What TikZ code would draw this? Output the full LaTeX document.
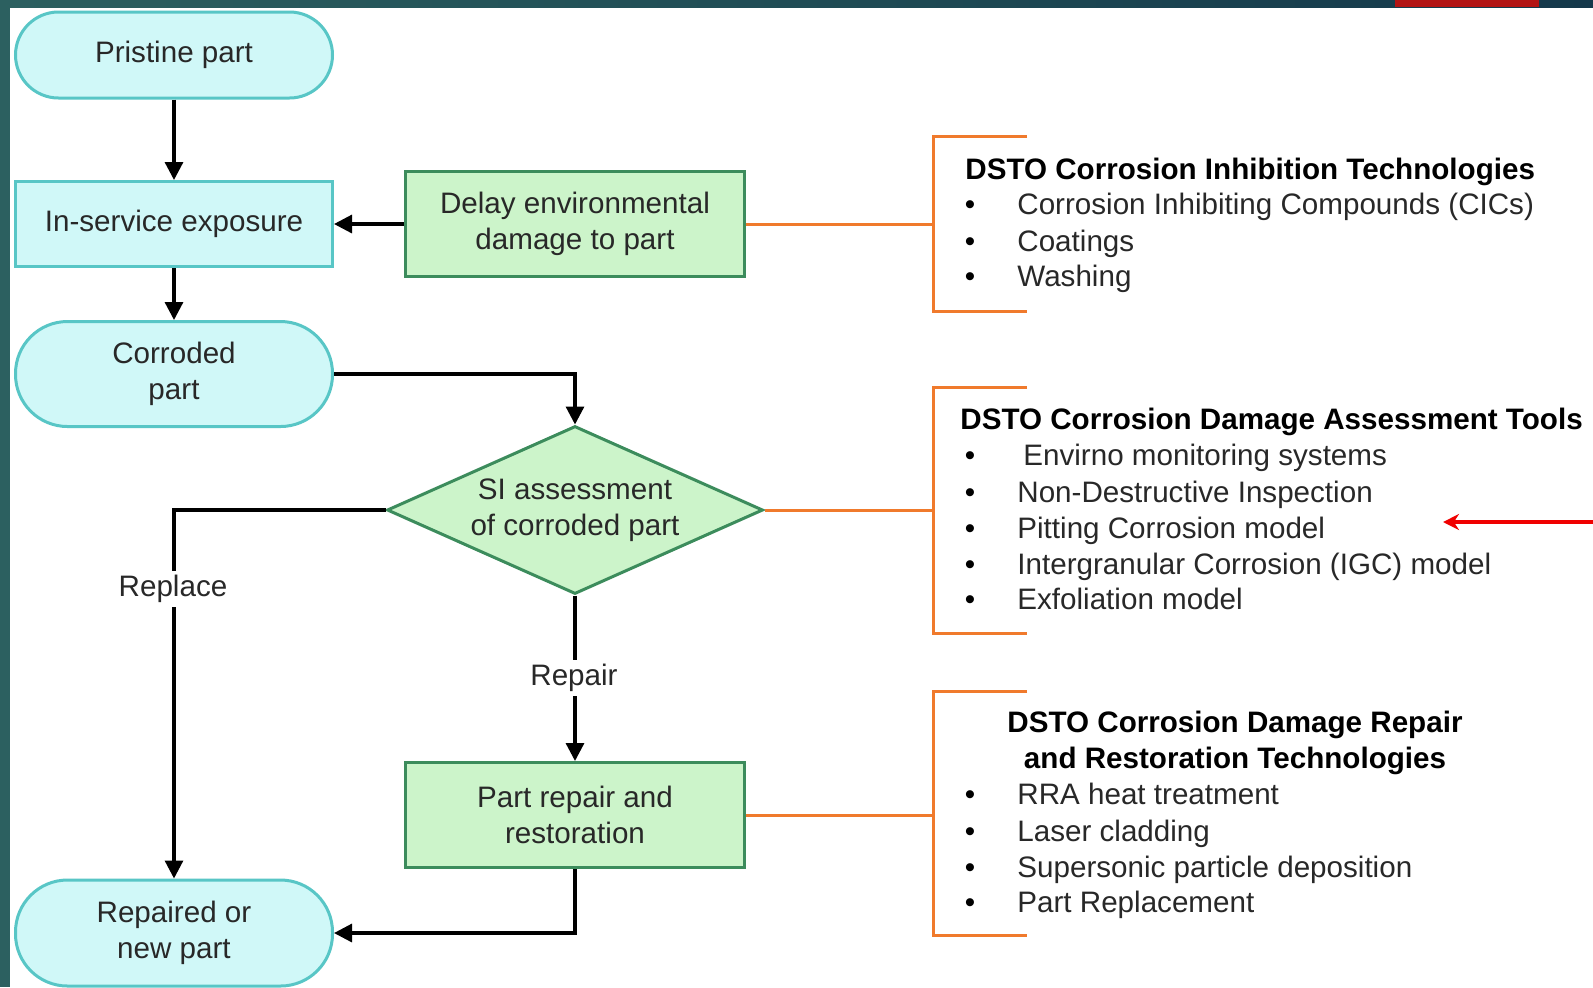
\documentclass[tikz,border=0pt]{standalone}
\usepackage{fontspec}
\setmainfont{Liberation Sans}
\usetikzlibrary{shapes.geometric,arrows.meta}
\definecolor{cyfill}{RGB}{208,248,248}
\definecolor{cydraw}{RGB}{88,198,198}
\definecolor{grfill}{RGB}{204,244,202}
\definecolor{grdraw}{RGB}{60,140,92}
\definecolor{orng}{RGB}{240,122,44}
\definecolor{tealA}{RGB}{44,96,96}
\definecolor{tealB}{RGB}{20,56,74}
\definecolor{barred}{RGB}{178,20,20}
\definecolor{arrred}{RGB}{240,0,0}
\definecolor{txt}{RGB}{40,40,40}
\begin{document}
\begin{tikzpicture}[x=0.5pt,y=-0.5pt,
  fnt/.style={font=\fontsize{14.8pt}{17.8pt}\selectfont},
  term/.style={fnt,draw=cydraw,fill=cyfill,line width=1.5pt,text=txt,align=center,minimum width=158.5pt,inner sep=0pt},
  cybox/.style={fnt,draw=cydraw,fill=cyfill,line width=1.5pt,text=txt,align=center,minimum width=158.5pt,minimum height=42.5pt,inner sep=0pt},
  grbox/.style={fnt,draw=grdraw,fill=grfill,line width=1.5pt,text=txt,align=center,minimum width=169.5pt,minimum height=52.5pt,inner sep=0pt},
  arr/.style={line width=1.6pt,-{Triangle[length=9pt,width=9pt]}},
  oline/.style={draw=orng,line width=1.5pt},
  lbl/.style={fnt,fill=white,text=txt,inner sep=2pt},
  ttl/.style={fnt,font=\fontsize{14.8pt}{17.8pt}\selectfont\bfseries,text=black,inner sep=0pt},
  itm/.style={fnt,text=txt,inner sep=0pt,anchor=base west},
  bul/.style={fnt,text=black,inner sep=0pt,anchor=base}
]
\useasboundingbox (0,0) rectangle (1593,987);
\fill[white] (0,0) rectangle (1593,987);
% frame bars
\fill[tealA] (0,0) rectangle (10,987);
\shade[left color=tealA,right color=tealB] (0,0) rectangle (1593,7);
\fill[barred] (1395,0) rectangle (1539,7);

% flowchart nodes
\node[term,minimum height=43pt,rounded corners=21.5pt] (pristine) at (174,55) {Pristine part};
\node[cybox] (inservice) at (174,224) {In-service exposure};
\node[term,minimum height=52.5pt,rounded corners=26pt] (corroded) at (174,374) {Corroded\\part};
\node[term,minimum height=53pt,rounded corners=26pt] (repaired) at (174,933) {Repaired or\\new part};
\node[grbox] (delay) at (575,224) {Delay environmental\\damage to part};
\node[diamond,aspect=2.24,fnt,draw=grdraw,fill=grfill,line width=1.5pt,text=txt,align=center,minimum width=188pt,minimum height=84pt,inner sep=0pt] (si) at (575,510) {SI assessment\\of corroded part};
\node[grbox] (rep) at (575,815) {Part repair and\\restoration};

% black connectors
\draw[arr] (pristine.south) -- (inservice.north);
\draw[arr] (inservice.south) -- (corroded.north);
\draw[arr] (delay.west) -- (inservice.east);
\draw[arr] (corroded.east) -| (si.north);
\draw[arr] (si.west) -| (repaired.north);
\draw[arr] (si.south) -- (rep.north);
\draw[arr] (rep.south) |- (repaired.east);
\node[lbl] (lreplace) at (173,589) {Replace};
\node[lbl] (lrepair) at (574,678) {Repair};

% orange brackets
\coordinate (j1) at (933,224);
\coordinate (j2) at (933,510);
\coordinate (j3) at (933,815);
\draw[oline] (delay.east) -- (j1);
\draw[oline] (si.east) -- (j2);
\draw[oline] (rep.east) -- (j3);
\draw[oline] (1027,136) -- (933,136) -- (933,311) -- (1027,311);
\draw[oline] (1027,387) -- (933,387) -- (933,633) -- (1027,633);
\draw[oline] (1027,691) -- (933,691) -- (933,935) -- (1027,935);

% bracket 1 text
\node[ttl,anchor=base west] (t1) at (965,179) {DSTO Corrosion Inhibition Technologies};
\node[bul] (b11) at (970,214) {•};
\node[itm] (i11) at (1017,214) {Corrosion Inhibiting Compounds (CICs)};
\node[bul] (b12) at (970,251) {•};
\node[itm] (i12) at (1017,251) {Coatings};
\node[bul] (b13) at (970,286) {•};
\node[itm] (i13) at (1017,286) {Washing};

% bracket 2 text
\node[ttl,anchor=base west] (t2) at (960,429) {DSTO Corrosion Damage Assessment Tools};
\node[bul] (b21) at (970,465) {•};
\node[itm] (i21) at (1023,465) {Envirno monitoring systems};
\node[bul] (b22) at (970,502) {•};
\node[itm] (i22) at (1017,502) {Non-Destructive Inspection};
\node[bul] (b23) at (970,538) {•};
\node[itm] (i23) at (1017,538) {Pitting Corrosion model};
\node[bul] (b24) at (970,574) {•};
\node[itm] (i24) at (1017,574) {Intergranular Corrosion (IGC) model};
\node[bul] (b25) at (970,609) {•};
\node[itm] (i25) at (1017,609) {Exfoliation model};

% bracket 3 text
\node[ttl,anchor=base] (t3a) at (1235,732) {DSTO Corrosion Damage Repair};
\node[ttl,anchor=base] (t3b) at (1235,768) {and Restoration Technologies};
\node[bul] (b31) at (970,804) {•};
\node[itm] (i31) at (1017,804) {RRA heat treatment};
\node[bul] (b32) at (970,841) {•};
\node[itm] (i32) at (1017,841) {Laser cladding};
\node[bul] (b33) at (970,877) {•};
\node[itm] (i33) at (1017,877) {Supersonic particle deposition};
\node[bul] (b34) at (970,912) {•};
\node[itm] (i34) at (1017,912) {Part Replacement};

% red arrow
\coordinate (rs) at (1593,522);
\coordinate (re) at (1443,522);
\draw[draw=arrred,line width=2pt,-{Stealth[length=8pt,width=8pt]}] (rs) -- (re);
\end{tikzpicture}
\end{document}
